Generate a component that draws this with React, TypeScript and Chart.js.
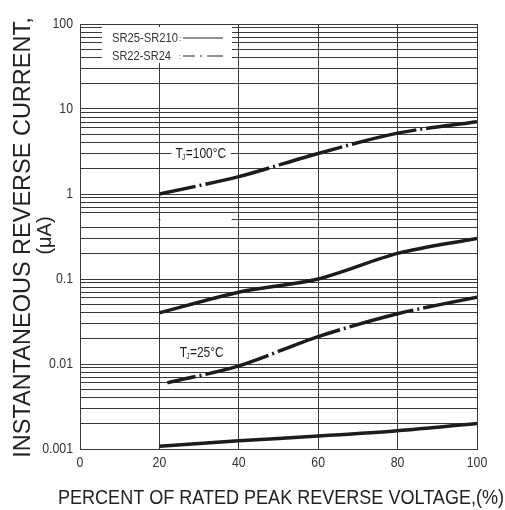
import React, { useEffect, useRef } from "react";
import { Chart, registerables } from "chart.js";

Chart.register(...registerables);

// ---------------- data ----------------
const xPercent = [20, 40, 60, 80, 100];
const xPercentLow25 = [22, 40, 60, 80, 100];
const sr22At100 = [1.0, 1.6, 3.0, 5.2, 7.1];
const sr25At100 = [0.04, 0.07, 0.1, 0.2, 0.3];
const sr22At25 = [0.006, 0.0095, 0.021, 0.039, 0.061];
const sr25At25 = [0.00108, 0.00125, 0.00142, 0.00164, 0.002];

const seriesNames = ["SR25-SR210", "SR22-SR24"];
const xTickValues = [0, 20, 40, 60, 80, 100];
const xTickLabels = ["0", "20", "40", "60", "80", "100"];
const yDecadeValues = [0.001, 0.01, 0.1, 1, 10, 100];
const yDecadeLabels = ["0.001", "0.01", "0.1", "1", "10", "100"];
const minorMultipliers = [1, 2, 3, 4, 5, 6, 7, 8, 9];

const yTitle = "INSTANTANEOUS REVERSE CURRENT,";
const yUnit = "(μA)";
const xTitle = "PERCENT OF RATED PEAK REVERSE VOLTAGE,(%)";
const tempLabels = [
  { rest: "=100°C", x: 30.5, y: 3, mask: true },
  { rest: "=25°C", x: 30.7, y: 0.0135, mask: false },
];

// ---------------- styles ----------------
const INK = "#1c1c1c";
const GRID = "#3a3a3a";
const DASH_DOT = [66, 4, 2, 4];
const SANS = "'Liberation Sans', Arial, sans-serif";
const TICK_SIZE = 15;
const TICK_SQUEEZE = 0.82;

const yGridValues: number[] = yDecadeValues
  .slice(0, -1)
  .flatMap((d) => minorMultipliers.map((m) => Number((d * m).toPrecision(3))))
  .concat([yDecadeValues[yDecadeValues.length - 1]]);

function squeezedText(
  ctx: CanvasRenderingContext2D,
  text: string,
  x: number,
  y: number,
  align: "left" | "right" | "center",
  sx: number
) {
  const w = ctx.measureText(text).width * sx;
  let left = x;
  if (align === "right") left = x - w;
  else if (align === "center") left = x - w / 2;
  ctx.save();
  ctx.translate(left, y);
  ctx.scale(sx, 1);
  ctx.textAlign = "left";
  ctx.fillText(text, 0, 0);
  ctx.restore();
}

function drawTj(ctx: CanvasRenderingContext2D, cx: number, cy: number, rest: string, mask: boolean) {
  const size = 15;
  const sx = 0.8;
  ctx.save();
  ctx.font = `${size}px ${SANS}`;
  const wT = ctx.measureText("T").width;
  const wR = ctx.measureText(rest).width;
  ctx.font = `${size * 0.55}px ${SANS}`;
  const wJ = ctx.measureText("J").width;
  const total = (wT + wJ + wR) * sx;
  if (mask) {
    ctx.fillStyle = "#fff";
    ctx.fillRect(cx - total / 2 - 4, cy - 6, total + 8, 12);
  }
  ctx.translate(cx - total / 2, cy);
  ctx.scale(sx, 1);
  ctx.fillStyle = INK;
  ctx.textBaseline = "middle";
  ctx.textAlign = "left";
  ctx.font = `${size}px ${SANS}`;
  ctx.fillText("T", 0, 0);
  ctx.font = `${size * 0.55}px ${SANS}`;
  ctx.fillText("J", wT - 1, 4);
  ctx.font = `${size}px ${SANS}`;
  ctx.fillText(rest, wT + wJ - 0.5, 0);
  ctx.restore();
}

const annotatePlugin = {
  id: "annotate",
  afterDraw(chart: any) {
    const { ctx, chartArea: a, scales } = chart;
    const xs = scales.x;
    const ys = scales.y;
    ctx.save();

    // faded grid segment (0.5 line) on the left of the scan
    const yHalf = ys.getPixelForValue(0.5);
    ctx.fillStyle = "#fff";
    ctx.fillRect(xs.getPixelForValue(0) + 1, yHalf - 1.5, xs.getPixelForValue(20) - xs.getPixelForValue(0) - 2, 3);
    ctx.fillRect(xs.getPixelForValue(20) + 1, yHalf - 1.5, xs.getPixelForValue(38.2) - xs.getPixelForValue(20) - 1, 3);

    // tick labels (condensed, positioned by the chart's scales)
    ctx.fillStyle = "#333";
    ctx.font = `${TICK_SIZE}px ${SANS}`;
    ctx.textBaseline = "middle";
    yDecadeValues.forEach((v, i) => {
      squeezedText(ctx, yDecadeLabels[i], a.left - 7, ys.getPixelForValue(v), "right", TICK_SQUEEZE);
    });
    xTickValues.forEach((v, i) => {
      squeezedText(ctx, xTickLabels[i], xs.getPixelForValue(v), a.bottom + 13.5, "center", TICK_SQUEEZE);
    });

    // legend box
    ctx.fillStyle = "#fff";
    ctx.fillRect(a.left + 22, a.top + 3, 130, 36);
    const rows = [a.top + 14, a.top + 32];
    seriesNames.forEach((name, i) => {
      const yy = rows[i];
      ctx.fillStyle = "#333";
      ctx.font = `13px ${SANS}`;
      ctx.textAlign = "left";
      ctx.textBaseline = "middle";
      ctx.fillText(name, a.left + 32, yy, i === 0 ? 66 : 59);
      ctx.font = `8px ${SANS}`;
      ctx.fillText(":", a.left + 99, yy + 1);
      ctx.strokeStyle = "#222";
      ctx.lineWidth = 1.2;
      ctx.setLineDash(i === 0 ? [] : [12, 5, 2, 5, 16, 100]);
      ctx.beginPath();
      ctx.moveTo(a.left + 103, yy);
      ctx.lineTo(a.left + 143, yy);
      ctx.stroke();
      ctx.setLineDash([]);
    });

    // temperature labels
    tempLabels.forEach((t) => {
      drawTj(ctx, xs.getPixelForValue(t.x), ys.getPixelForValue(t.y), t.rest, t.mask);
    });

    // axis titles
    ctx.fillStyle = "#222";
    ctx.textAlign = "center";
    ctx.textBaseline = "middle";
    ctx.font = `21px ${SANS}`;
    ctx.fillText(xTitle, 281, 498, 446);

    ctx.save();
    ctx.translate(24, (a.top + a.bottom) / 2 + 1);
    ctx.rotate(-Math.PI / 2);
    ctx.font = `23.5px ${SANS}`;
    ctx.fillText(yTitle, 0, 0, 449);
    ctx.restore();

    ctx.save();
    ctx.translate(45.5, (a.top + a.bottom) / 2 - 1);
    ctx.rotate(-Math.PI / 2);
    ctx.font = `20px ${SANS}`;
    ctx.fillText(yUnit, 0, 0, 45);
    ctx.restore();

    ctx.restore();
  },
};

export default function App() {
  const ref = useRef<HTMLCanvasElement | null>(null);

  useEffect(() => {
    if (!ref.current) return;
    const base = {
      borderColor: INK,
      borderWidth: 3.5,
      pointRadius: 0,
      tension: 0.3,
      fill: false,
      borderCapStyle: "butt" as const,
    };
    const chart = new Chart(ref.current, {
      type: "line",
      data: {
        datasets: [
          {
            ...base,
            label: seriesNames[1] + " 100°C",
            data: xPercent.map((x, i) => ({ x, y: sr22At100[i] })),
            borderDash: DASH_DOT,
            borderDashOffset: 29,
          },
          {
            ...base,
            label: seriesNames[0] + " 100°C",
            data: xPercent.map((x, i) => ({ x, y: sr25At100[i] })),
          },
          {
            ...base,
            label: seriesNames[1] + " 25°C",
            data: xPercentLow25.map((x, i) => ({ x, y: sr22At25[i] })),
            borderDash: DASH_DOT,
            borderDashOffset: 37,
          },
          {
            ...base,
            label: seriesNames[0] + " 25°C",
            data: xPercent.map((x, i) => ({ x, y: sr25At25[i] })),
          },
        ],
      },
      options: {
        animation: false,
        responsive: true,
        maintainAspectRatio: false,
        layout: { padding: { top: 24, right: 28, left: 0, bottom: 0 } },
        plugins: {
          legend: { display: false },
          tooltip: { enabled: false },
          title: { display: false },
        },
        scales: {
          x: {
            type: "linear",
            min: 0,
            max: 100,
            afterBuildTicks: (s: any) => {
              s.ticks = xTickValues.map((v) => ({ value: v }));
            },
            afterFit: (s: any) => {
              s.height = 61;
            },
            ticks: { display: false },
            grid: { color: GRID, lineWidth: 1, drawTicks: false },
            border: { color: GRID, width: 1 },
          },
          y: {
            type: "logarithmic",
            min: 0.001,
            max: 100,
            afterBuildTicks: (s: any) => {
              s.ticks = yGridValues.map((v) => ({ value: v }));
            },
            afterFit: (s: any) => {
              s.width = 80;
            },
            ticks: { display: false },
            grid: { color: GRID, lineWidth: 1, drawTicks: false },
            border: { color: GRID, width: 1 },
          },
        },
      },
      plugins: [annotatePlugin],
    });
    return () => chart.destroy();
  }, []);

  return (
    <div style={{ position: "fixed", left: 0, top: 0, width: 505, height: 510, background: "#fff" }}>
      <canvas ref={ref} />
    </div>
  );
}
